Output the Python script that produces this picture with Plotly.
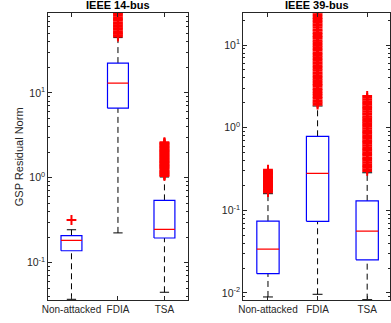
import math
import plotly.graph_objects as go

categories = ["Non-attacked", "FDIA", "TSA"]

# IEEE 14-bus box statistics
q1_14 = [0.138, 6.6, 0.195]
med_14 = [0.183, 13.0, 0.246]
q3_14 = [0.208, 22.4, 0.541]
lo_14 = [0.037, 0.224, 0.0448]
hi_14 = [0.244, 44.7, 1.02]
out14_na = [0.318]
out14_fdia = [46, 47.5, 49.5, 51, 53, 55.5, 57.5, 60, 62.5, 65, 68, 71.5, 74, 77, 81, 85, 88, 93, 98]
out14_tsa = [1.05, 1.07, 1.09, 1.12, 1.14, 1.17, 1.2, 1.22, 1.26, 1.29, 1.32, 1.35, 1.37, 1.41, 1.43, 1.47, 1.5, 1.53,
             1.56, 1.6, 1.63, 1.67, 1.7, 1.74, 1.78, 1.82, 1.85, 1.9, 1.94, 1.98, 2.02, 2.06, 2.1, 2.15, 2.2, 2.25,
             2.3, 2.35, 2.41, 2.47, 2.52, 2.57, 2.62]

# IEEE 39-bus box statistics
q1_39 = [0.0171, 0.0736, 0.0252]
med_39 = [0.034, 0.28, 0.0561]
q3_39 = [0.0741, 0.787, 0.130]
lo_39 = [0.00895, 0.00964, 0.0083]
hi_39 = [0.159, 1.83, 0.285]
out39_na = [0.166, 0.169, 0.172, 0.176, 0.179, 0.183, 0.187, 0.191, 0.195, 0.199, 0.203, 0.208, 0.212, 0.217, 0.222,
            0.226, 0.231, 0.237, 0.242, 0.248, 0.253, 0.259, 0.265, 0.271, 0.277, 0.284, 0.29, 0.296, 0.302, 0.31]
out39_fdia = [1.9, 1.97, 2.06, 2.15, 2.27, 2.36, 2.49, 2.6, 2.71, 2.86, 2.97, 3.12, 3.28, 3.41, 3.58, 3.76, 3.92,
              4.12, 4.29, 4.51, 4.7, 4.95, 5.16, 5.42, 5.66, 5.94, 6.2, 6.52, 6.79, 7.13, 7.45, 7.82, 8.15, 8.57,
              8.95, 9.4, 9.8, 10.3, 10.8, 11.3, 11.9, 12.4, 12.9, 13.6, 14.1, 14.9, 15.4, 16.3, 17.1, 17.8, 18.8,
              19.5, 20.6, 21.3, 22.5, 23.6, 25]
out39_tsa = [0.3, 0.315, 0.33, 0.345, 0.362, 0.38, 0.398, 0.418, 0.437, 0.46, 0.48, 0.505, 0.53, 0.553, 0.58, 0.61,
             0.64, 0.67, 0.7, 0.735, 0.77, 0.81, 0.85, 0.89, 0.93, 0.98, 1.03, 1.08, 1.13, 1.18, 1.24, 1.3, 1.36,
             1.43, 1.5, 1.57, 1.65, 1.73, 1.81, 1.9, 1.99, 2.09, 2.19, 2.3, 2.42]

AX = "#262626"
FONT = "Liberation Sans, Arial, sans-serif"

fig = go.Figure()


def add_panel(xa, ya, q1, med, q3, lo, hi, outs):
    w = 0.225
    cw = 0.1
    bx, by, mx, my, wx, wy, cx, cy = [], [], [], [], [], [], [], []
    for i in range(len(categories)):
        c = i + 1
        bx += [c - w, c + w, c + w, c - w, c - w, None]
        by += [q1[i], q1[i], q3[i], q3[i], q1[i], None]
        mx += [c - w, c + w, None]
        my += [med[i], med[i], None]
        wx += [c, c, None, c, c, None]
        wy += [q3[i], hi[i], None, lo[i], q1[i], None]
        cx += [c - cw, c + cw, None, c - cw, c + cw, None]
        cy += [hi[i], hi[i], None, lo[i], lo[i], None]
    common = dict(xaxis=xa, yaxis=ya, mode="lines", showlegend=False, hoverinfo="skip")
    fig.add_trace(go.Scatter(x=wx, y=wy, line=dict(color="black", width=1, dash="6px,4px"), **common))
    fig.add_trace(go.Scatter(x=cx, y=cy, line=dict(color="black", width=1), **common))
    fig.add_trace(go.Scatter(x=bx, y=by, line=dict(color="#0000ff", width=1.2), **common))
    fig.add_trace(go.Scatter(x=mx, y=my, line=dict(color="#ff0000", width=1.2), **common))
    ox, oy = [], []
    for i, vals in enumerate(outs):
        ox += [i + 1] * len(vals)
        oy += vals
    fig.add_trace(go.Scatter(x=ox, y=oy, xaxis=xa, yaxis=ya, mode="markers", showlegend=False,
                             marker=dict(symbol="cross-thin", size=7,
                                         line=dict(color="#ff0000", width=2))))


add_panel("x", "y", q1_14, med_14, q3_14, lo_14, hi_14, [out14_na, out14_fdia, out14_tsa])
add_panel("x2", "y2", q1_39, med_39, q3_39, lo_39, hi_39, [out39_na, out39_fdia, out39_tsa])

minor_vals = [m * 10 ** e for e in range(-3, 3) for m in range(2, 10)]


def xax(domain, rng, anchor):
    return dict(domain=domain, range=rng, anchor=anchor, tickvals=[1, 2, 3], ticktext=categories,
                ticks="inside", ticklen=4, tickcolor=AX, showline=True, linecolor=AX, linewidth=1,
                mirror="ticks", showgrid=False, zeroline=False,
                tickfont=dict(family=FONT, size=10, color=AX))


def yax(rng, anchor, tv):
    return dict(type="log", range=rng, anchor=anchor, domain=[0, 1],
                tickvals=tv, ticktext=["10<sup>%d</sup>" % round(math.log10(v)) for v in tv],
                ticks="inside", ticklen=4, tickcolor=AX, showline=True, linecolor=AX, linewidth=1,
                mirror="ticks", showgrid=False, zeroline=False,
                minor=dict(tickvals=minor_vals, ticks="inside", ticklen=2, tickcolor=AX),
                tickfont=dict(family=FONT, size=10.5, color=AX))


fig.update_layout(
    width=391, height=323,
    margin=dict(l=0, r=0, t=13, b=23),
    paper_bgcolor="white", plot_bgcolor="white",
    xaxis=xax([43 / 391, 185 / 391], [0.5, 3.5], "y"),
    yaxis=yax([-1.44, 1.94], "x", [0.1, 1, 10]),
    xaxis2=xax([241.5 / 391, 1.0], [0.5, 3.46], "y2"),
    yaxis2=yax([-2.085, 1.388], "x2", [0.01, 0.1, 1, 10]),
    annotations=[
        dict(text="<b>IEEE 14-bus</b>", x=114 / 391, y=1, xref="paper", yref="paper",
             xanchor="center", yanchor="bottom", showarrow=False,
             font=dict(family=FONT, size=11, color="black")),
        dict(text="<b>IEEE 39-bus</b>", x=317 / 391, y=1, xref="paper", yref="paper",
             xanchor="center", yanchor="bottom", showarrow=False,
             font=dict(family=FONT, size=11, color="black")),
        dict(text="GSP Residual Norm", x=13 / 391, y=0.5, xref="paper", yref="paper",
             xanchor="center", yanchor="middle", textangle=-90, showarrow=False,
             font=dict(family=FONT, size=11, color=AX)),
    ],
)

fig.write_html("out.html")
